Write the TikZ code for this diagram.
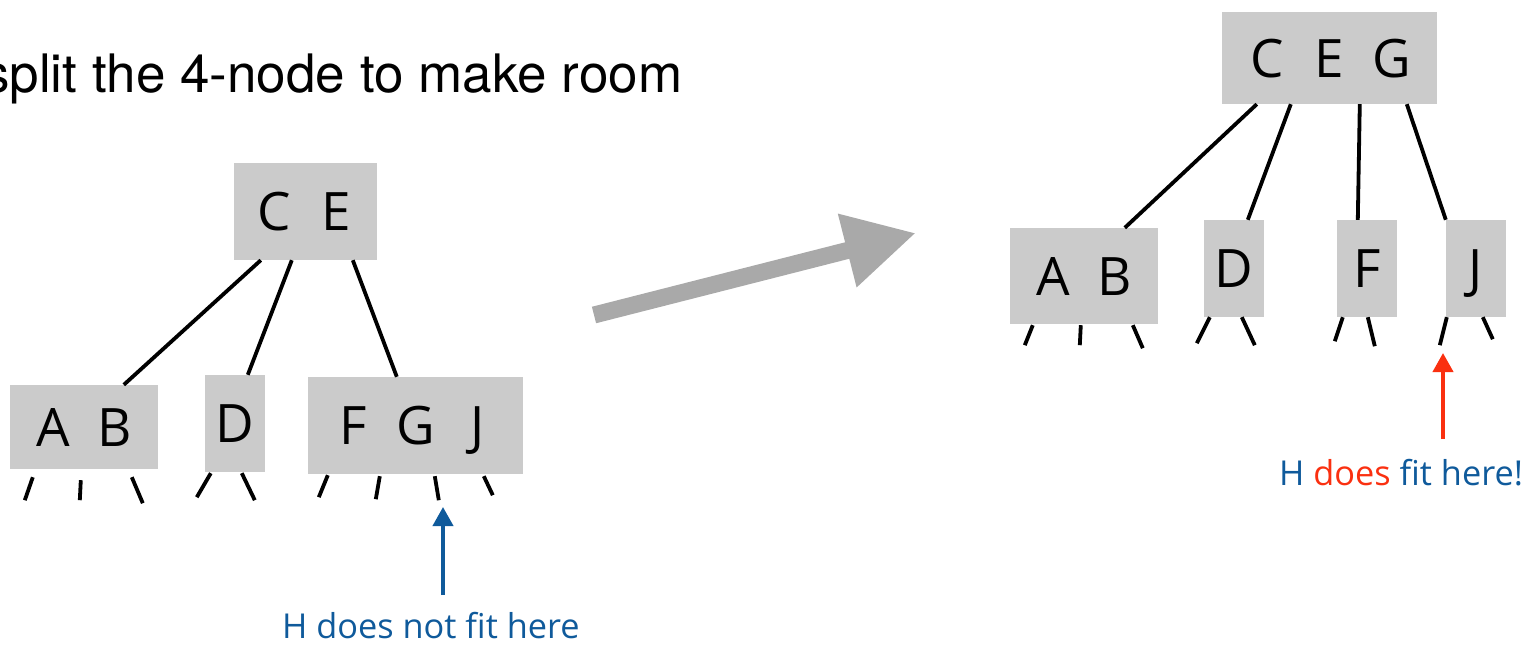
\documentclass[tikz,border=0pt]{standalone}
\usepackage{fontspec}
\setmainfont{TeX Gyre Heros}
\newfontfamily\comic{Open Sans}
\usetikzlibrary{arrows.meta}
\definecolor{boxgray}{HTML}{CBCBCB}
\definecolor{arrgray}{HTML}{A9A9A9}
\definecolor{hblue}{HTML}{0F5A9B}
\definecolor{hred}{HTML}{FA3010}
\newcommand{\lt}[1]{\makebox[62pt]{#1}}
\begin{document}
\begin{tikzpicture}[x=1pt,y=-1pt,
  keybox/.style={fill=boxgray, inner sep=0pt, font=\comic\fontsize{53}{53}\selectfont, text height=38pt, text depth=0pt},
  link/.style={line width=3.8pt, black},
  stub/.style={line width=3.8pt, black},
  note/.style={font=\comic\fontsize{34.3}{34.3}\selectfont, text=hblue, inner sep=0pt, anchor=base west},
  pointer/.style={line width=4pt, -{Triangle[length=19pt,width=20pt]}},
  bigarrow/.style={line width=17pt, arrgray, -{Triangle[length=71pt,width=71pt]}}
  ]
\useasboundingbox (0,0) rectangle (1529,645);
\node[anchor=base west, inner sep=0pt, font=\fontsize{53}{53}\selectfont] (title) at (-17,92) {split the 4-node to make room};

% left tree
\node[keybox, minimum width=143pt, minimum height=97pt] (lCE) at (305.5,211.5) {\lt{C}\lt{E}\hspace{14pt}};
\node[keybox, minimum width=148pt, minimum height=84pt] (lAB) at (84,427) {\lt{A}\lt{B}\hspace{8.5pt}};
\node[keybox, minimum width=60pt, minimum height=97pt] (lD) at (235,423.5) {D};
\node[keybox, minimum width=215pt, minimum height=97pt] (lFGJ) at (415.5,425.5) {\lt{F}\lt{G}\lt{J}\hspace{26pt}};

\draw[link] ([xshift=27pt]lCE.south west) -- ([xshift=114pt]lAB.north west);
\draw[link] ([xshift=58pt]lCE.south west) -- ([xshift=43pt]lD.north west);
\draw[link] ([xshift=119pt]lCE.south west) -- ([xshift=89pt]lFGJ.north west);

\draw[stub] ([xshift=23pt,yshift=-8pt]lAB.south west) -- ++(-8,23);
\draw[stub] ([xshift=71pt,yshift=-11pt]lAB.south west) -- ++(-1,20);
\draw[stub] ([xshift=122pt,yshift=-8pt]lAB.south west) -- ++(11,26);
\draw[stub] ([xshift=6pt,yshift=-1pt]lD.south west) -- ++(-14,24);
\draw[stub] ([xshift=37pt,yshift=-1pt]lD.south west) -- ++(13,27);
\draw[stub] ([xshift=20pt,yshift=-1pt]lFGJ.south west) -- ++(-9,22);
\draw[stub] ([xshift=72pt,yshift=-2pt]lFGJ.south west) -- ++(-4,23);
\draw[stub] ([xshift=127pt,yshift=-2pt]lFGJ.south west) -- ++(4,24);
\draw[stub] ([xshift=176pt,yshift=-2pt]lFGJ.south west) -- ++(9,19);

\coordinate (tailL) at (443,595);
\coordinate (tipL) at (443,507);
\draw[pointer, hblue] (tailL) -- (tipL);
\node[note] (noteL) at (282,638) {H does not fit here};

% transform arrow
\coordinate (gA) at (594,315);
\coordinate (gB) at (916,233);
\draw[bigarrow] (gA) -- (gB);

% right tree
\node[keybox, minimum width=215pt, minimum height=92pt] (rCEG) at (1329.5,58) {\lt{C}\lt{E}\lt{G}\hspace{27pt}};
\node[keybox, minimum width=148pt, minimum height=96pt] (rAB) at (1084,276) {\lt{A}\lt{B}\hspace{8.5pt}};
\node[keybox, minimum width=60pt, minimum height=97pt] (rD) at (1234,268.5) {D};
\node[keybox, minimum width=60pt, minimum height=97pt] (rF) at (1367,268.5) {F};
\node[keybox, minimum width=60pt, minimum height=97pt] (rJ) at (1476,268.5) {J};

\draw[link] ([xshift=35pt]rCEG.south west) -- ([xshift=115pt]rAB.north west);
\draw[link] ([xshift=69pt]rCEG.south west) -- ([xshift=44pt]rD.north west);
\draw[link] ([xshift=138pt]rCEG.south west) -- ([xshift=21pt]rF.north west);
\draw[link] ([xshift=185pt]rCEG.south west) -- (rJ.north west);

\draw[stub] ([xshift=23pt,yshift=-1pt]rAB.south west) -- ++(-8,20);
\draw[stub] ([xshift=71pt,yshift=-1pt]rAB.south west) -- ++(-1,20);
\draw[stub] ([xshift=123pt,yshift=-1pt]rAB.south west) -- ++(10,23);
\draw[stub] ([xshift=6pt]rD.south west) -- ++(-13,26);
\draw[stub] ([xshift=38pt]rD.south west) -- ++(13,28);
\draw[stub] ([xshift=6pt]rF.south west) -- ++(-8,24);
\draw[stub] ([xshift=31pt]rF.south west) -- ++(7,29);
\draw[stub] ([xshift=1pt]rJ.south west) -- ++(-7,28);
\draw[stub] ([xshift=37pt]rJ.south west) -- ++(10,22);

\coordinate (tailR) at (1443,439);
\coordinate (tipR) at (1443,353);
\draw[pointer, hred] (tailR) -- (tipR);
\node[note] (noteR) at (1279,485) {H \textcolor{hred}{does} fit here!};
\end{tikzpicture}
\end{document}
